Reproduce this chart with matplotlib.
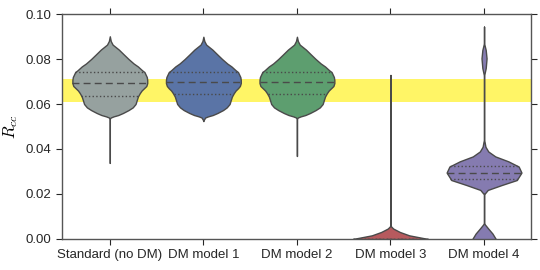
"""Violin chart of R_cc for the standard model and four DM models."""

import matplotlib

matplotlib.use("Agg")
import matplotlib.pyplot as plt
import numpy as np

plt.rcParams["font.family"] = ["Liberation Sans", "DejaVu Sans"]
plt.rcParams["mathtext.fontset"] = "cm"

CATEGORIES = ["Standard (no DM)", "DM model 1", "DM model 2", "DM model 3", "DM model 4"]
COLOURS = ["#96a19f", "#5a74a6", "#5d9e6f", "#b75a5e", "#857bb0"]

# Density profiles: y value -> half width (category units).
STD_Y = [0.0338, 0.0535, 0.0540, 0.0545, 0.0551, 0.0560, 0.0573, 0.0585, 0.0600,
         0.0620, 0.0633, 0.0648, 0.0660, 0.0670, 0.0680, 0.0693, 0.0707, 0.0720,
         0.0742, 0.0750, 0.0767, 0.0780, 0.0800, 0.0820, 0.0842, 0.0864, 0.0880, 0.0901]
STD_W = [0.0, 0.0, 0.01, 0.04, 0.09, 0.14, 0.20, 0.245, 0.275,
         0.29, 0.30, 0.32, 0.34, 0.365, 0.39, 0.40, 0.40, 0.395,
         0.37, 0.345, 0.30, 0.255, 0.20, 0.15, 0.096, 0.03, 0.01, 0.0]

DM1_Y = [0.0524, 0.0530, 0.0540, 0.0545, 0.0551, 0.0560, 0.0573, 0.0585, 0.0600,
         0.0620, 0.0633, 0.0648, 0.0660, 0.0670, 0.0680, 0.0693, 0.0707, 0.0720,
         0.0742, 0.0750, 0.0767, 0.0780, 0.0800, 0.0820, 0.0842, 0.0864, 0.0880, 0.0899]
DM1_W = [0.0, 0.005, 0.02, 0.05, 0.10, 0.15, 0.21, 0.25, 0.28,
         0.295, 0.305, 0.325, 0.345, 0.37, 0.39, 0.40, 0.40, 0.395,
         0.37, 0.345, 0.30, 0.255, 0.20, 0.15, 0.096, 0.03, 0.01, 0.0]

DM2_Y = [0.0369, 0.0535, 0.0540, 0.0545, 0.0551, 0.0560, 0.0573, 0.0585, 0.0600,
         0.0620, 0.0633, 0.0648, 0.0660, 0.0670, 0.0680, 0.0693, 0.0707, 0.0720,
         0.0742, 0.0750, 0.0767, 0.0780, 0.0800, 0.0820, 0.0842, 0.0864, 0.0880, 0.0899]
DM2_W = [0.0, 0.0, 0.01, 0.04, 0.09, 0.14, 0.20, 0.245, 0.275,
         0.29, 0.30, 0.32, 0.34, 0.365, 0.39, 0.40, 0.40, 0.395,
         0.37, 0.345, 0.30, 0.255, 0.20, 0.15, 0.096, 0.03, 0.01, 0.0]

DM3_Y = [-0.0054, -0.0046, -0.0031, -0.0016, 0.0, 0.0016, 0.0031, 0.0046, 0.0054, 0.0060, 0.0729]
DM3_W = [0.01, 0.03, 0.10, 0.20, 0.40, 0.20, 0.10, 0.03, 0.01, 0.0, 0.0]

DM4_Y = [-0.0046, -0.0024, 0.0, 0.0024, 0.0046, 0.0064, 0.0070, 0.0200, 0.0203, 0.0218,
         0.0240, 0.0262, 0.0295, 0.0322, 0.0345, 0.0367, 0.0389, 0.0410, 0.0433,
         0.0440, 0.0725, 0.0760, 0.0803, 0.0840, 0.0871, 0.0944]
DM4_W = [0.045, 0.09, 0.125, 0.09, 0.045, 0.01, 0.0, 0.0, 0.01, 0.04,
         0.19, 0.35, 0.40, 0.37, 0.26, 0.12, 0.045, 0.015, 0.005,
         0.0, 0.0, 0.018, 0.027, 0.018, 0.0, 0.0]

PROFILES = [(STD_Y, STD_W), (DM1_Y, DM1_W), (DM2_Y, DM2_W), (DM3_Y, DM3_W), (DM4_Y, DM4_W)]

# Quartiles (lower, median, upper).
QUARTILES = [
    (0.0636, 0.0693, 0.0741),
    (0.0643, 0.0696, 0.0741),
    (0.0643, 0.0696, 0.0741),
    (0.0, 0.0, 0.0),
    (0.0268, 0.0295, 0.0324),
]

BAND = (0.061, 0.071)

fig = plt.figure(figsize=(5.4, 2.7), dpi=100)
ax = fig.add_axes([0.115, 0.115, 0.868, 0.833])

ax.axhspan(*BAND, color="#fff566", linewidth=0, zorder=0)

stats = []
for (ys, ws), (q1, med, q3) in zip(PROFILES, QUARTILES):
    stats.append({
        "coords": np.array(ys),
        "vals": np.array(ws),
        "mean": med,
        "median": med,
        "min": min(ys),
        "max": max(ys),
    })

parts = ax.violin(stats, positions=range(len(CATEGORIES)), widths=0.8,
                  showmeans=False, showextrema=False, showmedians=False)
for body, colour in zip(parts["bodies"], COLOURS):
    body.set_facecolor(colour)
    body.set_edgecolor("#4a4a4a")
    body.set_linewidth(1.0)
    body.set_alpha(1)
    body.set_zorder(2)

for i, ((ys, ws), qs) in enumerate(zip(PROFILES, QUARTILES)):
    for q, style in zip(qs, [":", (0, (5, 3)), ":"]):
        hw = np.interp(q, ys, ws)
        if hw < 0.02:
            continue
        ax.plot([i - hw, i + hw], [q, q], color="#4a4a4a", lw=1.0,
                linestyle=style, zorder=3)

ax.set_xlim(-0.51, 4.5)
ax.set_ylim(0, 0.10)
ax.set_xticks(range(len(CATEGORIES)))
ax.set_xticklabels(CATEGORIES)
ax.set_yticks([0.0, 0.02, 0.04, 0.06, 0.08, 0.10])
ax.set_yticklabels([f"{v:.2f}" for v in ax.get_yticks()])
ax.set_ylabel("$R_{cc}$", fontsize=12)
ax.tick_params(direction="out", length=4, width=0.8, colors="#262626",
               labelsize=9.5, top=True, right=True)
for spine in ax.spines.values():
    spine.set_color("#555555")
    spine.set_linewidth(1.0)

fig.savefig("out.png", dpi=100)
